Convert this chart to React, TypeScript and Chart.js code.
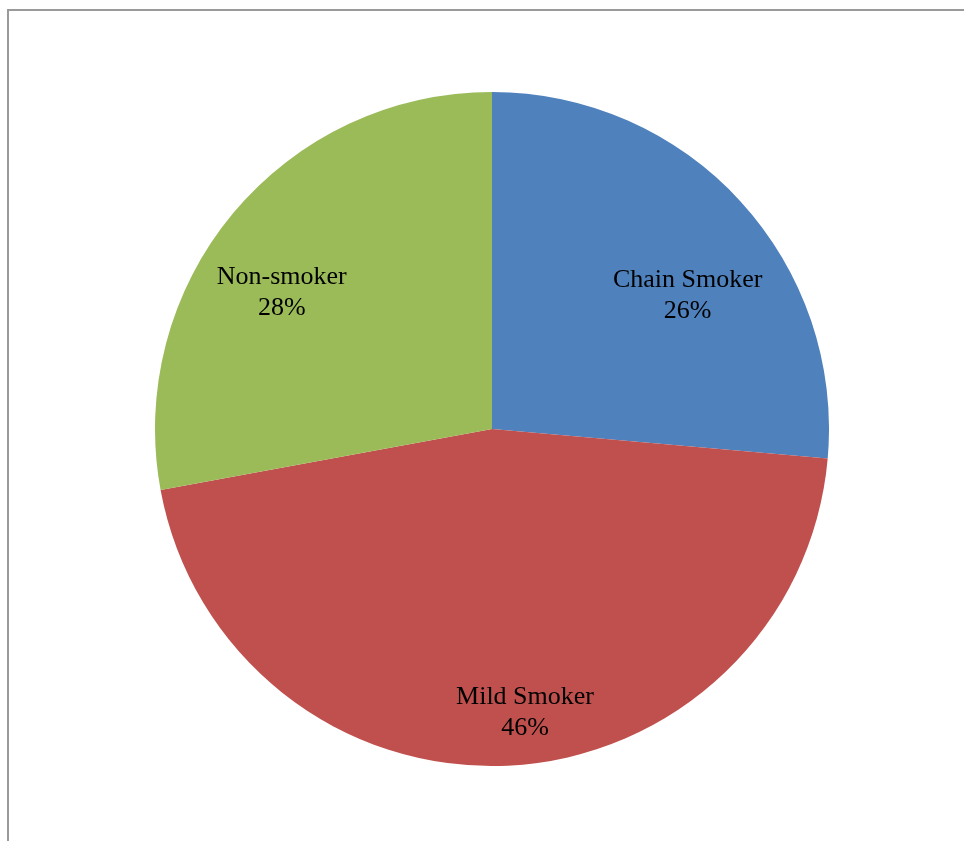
import React, { useEffect, useRef } from "react";
import { Chart, registerables } from "chart.js";

Chart.register(...registerables);

const categories = ["Chain Smoker", "Mild Smoker", "Non-smoker"];
const shares = [26.4, 45.7, 27.9];
const sliceColors = ["#4F81BD", "#C0504D", "#9BBB59"];

// label placement per slice: [angle offset from slice middle (deg), fraction of radius]
const labelPlacement: [number, number][] = [
  [7.8, 0.706],
  [-4.0, 0.84],
  [-6.3, 0.748],
];

const sliceLabels = {
  id: "sliceLabels",
  afterDatasetsDraw(chart: any) {
    const { ctx } = chart;
    const meta = chart.getDatasetMeta(0);
    ctx.save();
    ctx.fillStyle = "#000000";
    ctx.font = '26px "Liberation Serif", "Times New Roman", serif';
    ctx.textAlign = "center";
    ctx.textBaseline = "middle";
    const total = shares.reduce((a, b) => a + b, 0);
    meta.data.forEach((arc: any, i: number) => {
      const p = arc.getProps(["x", "y", "startAngle", "endAngle", "outerRadius"], true);
      const mid = (p.startAngle + p.endAngle) / 2 + (labelPlacement[i][0] * Math.PI) / 180;
      const r = p.outerRadius * labelPlacement[i][1];
      const x = p.x + Math.cos(mid) * r;
      const y = p.y + Math.sin(mid) * r;
      const pct = Math.round((shares[i] / total) * 100) + "%";
      ctx.fillText(categories[i], x, y - 13);
      ctx.fillText(pct, x, y + 18);
    });
    ctx.restore();
  },
};

export default function App() {
  const ref = useRef<HTMLCanvasElement | null>(null);
  useEffect(() => {
    if (!ref.current) return;
    const chart = new Chart(ref.current, {
      type: "pie",
      data: {
        labels: categories,
        datasets: [
          {
            data: shares,
            backgroundColor: sliceColors,
            borderWidth: 0,
          },
        ],
      },
      options: {
        animation: false,
        responsive: false,
        maintainAspectRatio: false,
        events: [],
        layout: { padding: 0 },
        plugins: {
          legend: { display: false },
          tooltip: { enabled: false },
        },
      },
      plugins: [sliceLabels],
    });
    return () => chart.destroy();
  }, []);

  return (
    <div
      style={{
        position: "absolute",
        left: 0,
        top: 0,
        width: 964,
        height: 841,
        overflow: "hidden",
        background: "#ffffff",
      }}
    >
      <div
        style={{
          position: "absolute",
          left: 7,
          top: 9,
          width: 1000,
          height: 900,
          borderTop: "2px solid #9a9a9a",
          borderLeft: "2px solid #9a9a9a",
        }}
      />
      <canvas
        ref={ref}
        width={674}
        height={674}
        style={{ position: "absolute", left: 155, top: 92, width: 674, height: 674 }}
      />
    </div>
  );
}
